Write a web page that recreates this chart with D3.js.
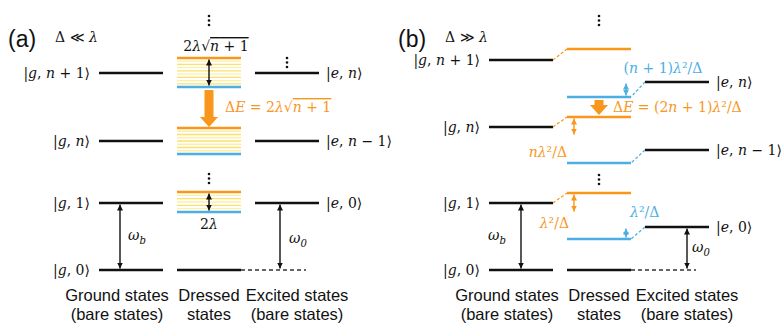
<!DOCTYPE html>
<html>
<head>
<meta charset="utf-8">
<script src="https://cdn.jsdelivr.net/npm/d3@7"></script>
<style>
  body { margin: 0; background: #fff; }
  svg text { fill: #111; }
  .sans { font-family: "Liberation Sans", Arial, sans-serif; }
  .math { font-family: "DejaVu Serif", "Liberation Serif", serif; font-size: 14px; }
</style>
</head>
<body>
<svg class="chart" width="781" height="326"></svg>
<script>
const orange = "#f9961c";
const blue = "#4daee3";
const yellows = ["#fde06a", "#fdf0a6"];

const columns = ["ground", "dressed", "excited"];
const columnTitles = [["Ground states", "(bare states)"], ["Dressed", "states"], ["Excited states", "(bare states)"]];

// panel (a): strong coupling, energies in diagram units
const groundA = [
  { label: "|g, n + 1⟩", E: 197 },
  { label: "|g, n⟩", E: 129 },
  { label: "|g, 1⟩", E: 67 },
  { label: "|g, 0⟩", E: 0 }
];
const excitedA = [
  { label: "|e, n⟩", E: 197 },
  { label: "|e, n − 1⟩", E: 129 },
  { label: "|e, 0⟩", E: 67 }
];
const bandsA = [
  { top: 212, bottom: 183, lines: 8 },
  { top: 142, bottom: 116, lines: 7 },
  { top: 78, bottom: 58, lines: 5 }
];

// panel (b): dispersive regime
const groundB = [
  { label: "|g, n + 1⟩", E: 210 },
  { label: "|g, n⟩", E: 143 },
  { label: "|g, 1⟩", E: 67 },
  { label: "|g, 0⟩", E: 0 }
];
const excitedB = [
  { label: "|e, n⟩", E: 188 },
  { label: "|e, n − 1⟩", E: 120 },
  { label: "|e, 0⟩", E: 43 }
];
// dressed levels, each shifted from a bare level
const dressedB = [
  { E: 221, from: "ground", bare: 210, color: "orange" },
  { E: 173, from: "excited", bare: 188, color: "blue" },
  { E: 153, from: "ground", bare: 143, color: "orange" },
  { E: 107, from: "excited", bare: 120, color: "blue" },
  { E: 77, from: "ground", bare: 67, color: "orange" },
  { E: 31, from: "excited", bare: 43, color: "blue" }
];

const svg = d3.select("svg.chart");

const y = d3.scaleLinear().domain([0, 250]).range([270, 20]);
const x = d3.scalePoint().domain(columns).range([131, 287]);
const half = 32;
const col = c => (c === "orange" ? orange : c === "blue" ? blue : "#111");

const defs = svg.append("defs");
["black", "orange", "blue"].forEach(c => {
  defs.append("marker")
    .attr("id", "head-" + c)
    .attr("viewBox", "0 0 6 6")
    .attr("refX", 6).attr("refY", 3)
    .attr("markerWidth", 6).attr("markerHeight", 6)
    .attr("markerUnits", "userSpaceOnUse")
    .attr("orient", "auto-start-reverse")
    .append("path")
    .attr("d", "M0,0 L6,3 L0,6 Z")
    .attr("fill", col(c));
});

// mixed italic / upright math text
function math(sel, str) {
  const re = /(_\w)|√\{([^}]*)\}|([A-Za-zλω]+)|([^A-Za-zλω_√]+)/g;
  let m, sub = false;
  while ((m = re.exec(str)) !== null) {
    if (m[1]) {
      sel.append("tspan").attr("dy", 4).attr("font-size", "0.72em").style("font-style", "italic").text(m[1][1]);
      sub = true;
      continue;
    }
    const back = sub ? -4 : null;
    sub = false;
    if (m[2] !== undefined) {
      sel.append("tspan").attr("dy", back).text("√");
      const t = sel.append("tspan").style("text-decoration", "overline");
      math(t, m[2]);
    } else if (m[3]) {
      sel.append("tspan").attr("dy", back).style("font-style", "italic").text(m[3]);
    } else {
      sel.append("tspan").attr("dy", back).text(m[4]);
    }
  }
  return sel;
}

function label(g, str, px, py, anchor, color) {
  const t = g.append("text").attr("class", "math")
    .attr("x", px).attr("y", py)
    .attr("text-anchor", anchor || "start");
  if (color) t.style("fill", color);
  return math(t, str);
}

function level(g, c, E, color, dash) {
  g.append("line")
    .attr("x1", x(c) - half).attr("x2", x(c) + half)
    .attr("y1", y(E)).attr("y2", y(E))
    .attr("stroke", color || "#111")
    .attr("stroke-width", 2.6)
    .attr("stroke-dasharray", dash || null);
}

function doubleArrow(g, px, E1, E2, c) {
  g.append("line")
    .attr("x1", px).attr("x2", px)
    .attr("y1", y(E1) + 1.5).attr("y2", y(E2) - 1.5)
    .attr("stroke", col(c)).attr("stroke-width", 1.4)
    .attr("marker-start", "url(#head-" + c + ")")
    .attr("marker-end", "url(#head-" + c + ")");
}

function bigArrow(g, px, y1, y2) {
  const hw = 9, sw = 4.5, hl = 10;
  const p = d3.path();
  p.moveTo(px - sw, y1); p.lineTo(px + sw, y1);
  p.lineTo(px + sw, y2 - hl); p.lineTo(px + hw, y2 - hl);
  p.lineTo(px, y2); p.lineTo(px - hw, y2 - hl);
  p.lineTo(px - sw, y2 - hl); p.closePath();
  g.append("path").attr("d", p.toString()).attr("fill", orange);
}

function vdots(g, px, py) {
  g.append("g").selectAll("circle")
    .data([0, 1, 2]).enter().append("circle")
    .attr("cx", px).attr("cy", d => py + d * 4.5)
    .attr("r", 1.3).attr("fill", "#111");
}

function common(g, ground, excited, tag, relation) {
  g.append("text").attr("class", "sans")
    .attr("x", 8).attr("y", 47).attr("font-size", 23).text("(" + tag + ")");
  label(g, "Δ " + relation + " λ", 55, 42).attr("font-size", 14);

  ground.forEach(d => {
    level(g, "ground", d.E);
    label(g, d.label, x("ground") - half - 9, y(d.E) + 5, "end");
  });
  excited.forEach(d => {
    level(g, "excited", d.E);
    label(g, d.label, x("excited") + half + 7, y(d.E) + 5);
  });
  level(g, "dressed", 0);
  g.append("line")
    .attr("x1", x("dressed") + half).attr("x2", x("excited") + 19)
    .attr("y1", y(0)).attr("y2", y(0))
    .attr("stroke", "#333").attr("stroke-width", 1.3)
    .attr("stroke-dasharray", "4,3");

  const offs = [-14, 0, 10];
  columnTitles.forEach((t, i) => {
    const tx = g.append("text").attr("class", "sans")
      .attr("text-anchor", "middle").attr("font-size", 16.5);
    t.forEach((s, j) => tx.append("tspan")
      .attr("x", x(columns[i]) + offs[i]).attr("y", 301 + j * 19).text(s));
  });
}

// ---------- panel (a)
const ga = svg.append("g");
common(ga, groundA, excitedA, "a", "≪");

bandsA.forEach(b => {
  const step = (y(b.bottom) - y(b.top)) / (b.lines + 1);
  ga.append("g").selectAll("line")
    .data(d3.range(1, b.lines + 1)).enter().append("line")
    .attr("x1", x("dressed") - half).attr("x2", x("dressed") + half)
    .attr("y1", i => y(b.top) + i * step).attr("y2", i => y(b.top) + i * step)
    .attr("stroke", i => yellows[i % 2]).attr("stroke-width", 1.3);
  level(ga, "dressed", b.top, orange);
  level(ga, "dressed", b.bottom, blue);
});

vdots(ga, x("dressed"), 16);
vdots(ga, x("excited"), 58);
vdots(ga, x("dressed"), 174);

doubleArrow(ga, x("dressed"), bandsA[0].top, bandsA[0].bottom, "black");
doubleArrow(ga, x("dressed"), bandsA[2].top, bandsA[2].bottom, "black");
bigArrow(ga, x("dressed"), y(bandsA[0].bottom) + 3, y(bandsA[1].top) - 1);

label(ga, "2λ√{n + 1}", x("dressed") + 7, 51, "middle").attr("font-size", 15);
label(ga, "ΔE = 2λ√{n + 1}", x("dressed") + 16, 112, "start", orange).attr("font-size", 16);
label(ga, "2λ", x("dressed"), 229, "middle").attr("font-size", 15);

doubleArrow(ga, x("ground") - 11, 67, 0, "black");
label(ga, "ω_b", x("ground") - 3, 240).attr("font-size", 15);
doubleArrow(ga, x("excited") - 7, 67, 0, "black");
label(ga, "ω_0", x("excited") + 2, 243).attr("font-size", 15);

// ---------- panel (b)
const gb = svg.append("g").attr("transform", "translate(390,0)");
common(gb, groundB, excitedB, "b", "≫");

dressedB.forEach(d => {
  level(gb, "dressed", d.E, col(d.color));
  const fromGround = d.from === "ground";
  gb.append("line")
    .attr("x1", fromGround ? x("ground") + half : x("excited") - half)
    .attr("y1", y(d.bare))
    .attr("x2", fromGround ? x("dressed") - half : x("dressed") + half)
    .attr("y2", y(d.E))
    .attr("stroke", col(d.color)).attr("stroke-width", 1.2)
    .attr("stroke-dasharray", "3,2");
});

vdots(gb, x("dressed"), 16);
vdots(gb, x("dressed"), 175);

const right = x("dressed") + half - 5, left = x("dressed") - half + 7;
doubleArrow(gb, right, 188, 173, "blue");
bigArrow(gb, x("dressed"), y(173) + 3, y(153) - 2);
doubleArrow(gb, left, 153, 134, "orange");
doubleArrow(gb, left, 77, 57, "orange");
doubleArrow(gb, right, 43, 31, "blue");

label(gb, "(n + 1)λ²/Δ", 273, 73, "middle", blue).attr("font-size", 15.5);
label(gb, "ΔE = (2n + 1)λ²/Δ", 223, 112, "start", orange).attr("font-size", 16);
label(gb, "nλ²/Δ", 177, 157, "end", orange).attr("font-size", 16);
label(gb, "λ²/Δ", 179, 228, "end", orange).attr("font-size", 16);
label(gb, "λ²/Δ", 240, 217, "start", blue).attr("font-size", 16);

doubleArrow(gb, x("ground"), 67, 0, "black");
label(gb, "ω_b", x("ground") - 33, 240).attr("font-size", 15);
doubleArrow(gb, x("excited") + 10, 43, 0, "black");
label(gb, "ω_0", x("excited") + 15, 252).attr("font-size", 15);
</script>
</body>
</html>
